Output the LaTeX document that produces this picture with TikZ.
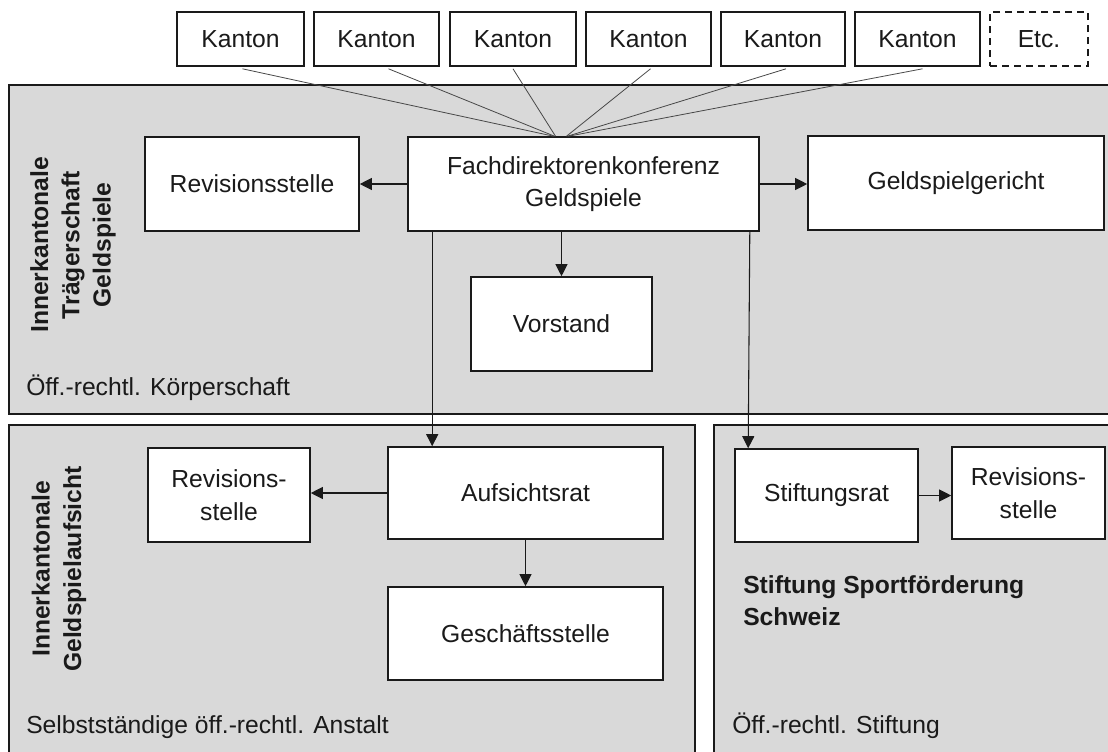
\documentclass[tikz,border=0pt]{standalone}
\usepackage{fontspec}
\setmainfont{Liberation Sans}
\usetikzlibrary{arrows.meta,calc}
\definecolor{panelgray}{HTML}{D9D9D9}
\definecolor{ink}{HTML}{1A1A1A}
\tikzset{
  panel/.style={draw=ink, line width=1.2pt, fill=panelgray},
  orgbox/.style={draw=ink, line width=1.2pt, fill=white, inner sep=0pt, align=center, text=ink,
    font=\fontsize{18.5}{24.5}\selectfont},
  etcbox/.style={orgbox, dashed, dash pattern=on 5pt off 4pt},
  bx/.style n args={4}{minimum width={(#3-#1)*0.75pt}, minimum height={(#4-#2)*0.75pt},
    at={({(#1+#3)/2},{(#2+#4)/2})}},
  arr/.style={draw=ink, line width=0.8pt, -{Triangle[length=9pt,width=9pt]}},
  feed/.style={draw=ink!80, line width=0.6pt},
  vlabel/.style={rotate=90, align=center, text=ink, font=\fontsize{18.5}{23.5}\selectfont\bfseries},
  plabel/.style={anchor=base west, inner sep=0pt, text=ink, font=\fontsize{18.5}{24}\selectfont},
}
\begin{document}
\begin{tikzpicture}[x=0.75pt,y=-0.75pt]
\useasboundingbox (0,0) rectangle (1108,751);
\begin{scope}
\clip (0,0) rectangle (1108,751);
% panels
\draw[panel] (9,85) rectangle (1120,414);
\draw[panel] (9,425) rectangle (695,770);
\draw[panel] (714,425) rectangle (1120,770);
\end{scope}

% Kantone
\node[orgbox, bx={177}{12}{304}{66}] (k1) {Kanton};
\node[orgbox, bx={314}{12}{439}{66}] (k2) {Kanton};
\node[orgbox, bx={450}{12}{576}{66}] (k3) {Kanton};
\node[orgbox, bx={586}{12}{711}{66}] (k4) {Kanton};
\node[orgbox, bx={721}{12}{845}{66}] (k5) {Kanton};
\node[orgbox, bx={855}{12}{980}{66}] (k6) {Kanton};
\node[etcbox, bx={990}{12}{1088}{66}] (etc) {Etc.};

% top panel boxes
\node[orgbox, bx={145}{137}{359}{231}] (rev1) {Revisionsstelle};
\node[orgbox, bx={408}{137}{759}{231}] (fach) {Fachdirektorenkonferenz\\Geldspiele};
\node[orgbox, bx={808}{136}{1104}{230}] (gericht) {Geldspielgericht};
\node[orgbox, bx={471}{277}{652}{371}] (vorstand) {Vorstand};

% bottom-left boxes
\node[orgbox, bx={148}{448}{310}{542}] (rev2) {Revisions-\\stelle};
\node[orgbox, bx={388}{447}{663}{539}] (aufsicht) {Aufsichtsrat};
\node[orgbox, bx={388}{587}{663}{680}] (gesch) {Geschäftsstelle};

% bottom-right boxes
\node[orgbox, bx={735}{449}{918}{542}] (stift) {Stiftungsrat};
\node[orgbox, bx={952}{447}{1105}{539}] (rev3) {Revisions-\\stelle};

% Kanton lines
\draw[feed] ($(k1.south)+(2,2)$) -- ($(fach.north)+(-30,0)$);
\draw[feed] ($(k2.south)+(12,2)$) -- ($(fach.north)+(-29,0)$);
\draw[feed] ($(k3.south)+(0,2)$) -- ($(fach.north)+(-28,0)$);
\draw[feed] ($(k4.south)+(2,2)$) -- ($(fach.north)+(-17,0)$);
\draw[feed] ($(k5.south)+(3,2)$) -- ($(fach.north)+(-16,0)$);
\draw[feed] ($(k6.south)+(5,2)$) -- ($(fach.north)+(-15,0)$);

% arrows
\draw[arr] (fach.west) -- (rev1.east);
\draw[arr] (fach.east) -- (gericht.west |- fach.east);
\draw[arr] (vorstand.north |- fach.south) -- (vorstand.north);
\draw[arr] ($(fach.south west)+(25,0)$) -- ($(aufsicht.north west)+(45,0)$);
\draw[arr] ($(fach.south east)+(-10,0)$) -- ($(stift.north west)+(14,0)$);
\draw[arr] (aufsicht.west) -- (aufsicht.west -| rev2.east);
\draw[arr] (aufsicht.south) -- (gesch.north);
\draw[arr] (stift.east) -- (stift.east -| rev3.west);

% labels
\node[vlabel] (lab1) at (73,245) {Innerkantonale\\Trägerschaft\\Geldspiele};
\node[vlabel] (lab2) at (59,569) {Innerkantonale\\Geldspielaufsicht};
\node[plabel] (t1) at (26,395) {Öff.-rechtl. Körperschaft};
\node[plabel] (t2) at (26,733) {Selbstständige öff.-rechtl. Anstalt};
\node[plabel] (t3) at (732,733) {Öff.-rechtl. Stiftung};
\node[plabel, font=\fontsize{18.5}{24}\selectfont\bfseries, align=left] (t4) at (743,625) {Stiftung Sportförderung\\Schweiz};
\end{tikzpicture}
\end{document}
